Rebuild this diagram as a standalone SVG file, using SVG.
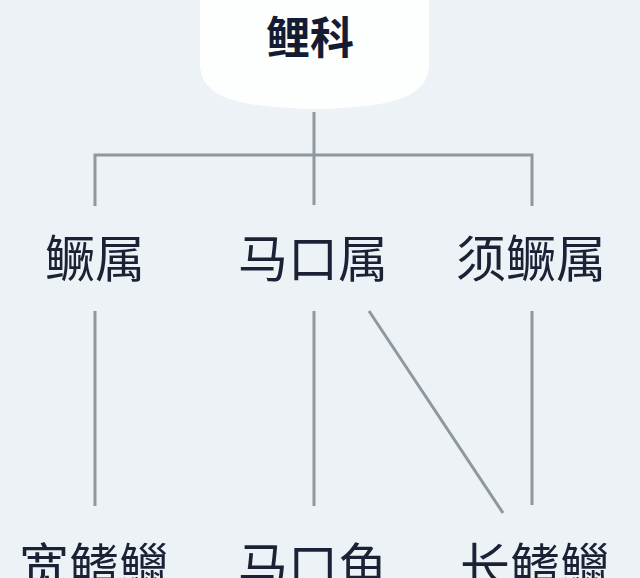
<svg xmlns="http://www.w3.org/2000/svg" width="640" height="578" viewBox="0 0 640 578">
<style>
.ln{stroke:#8e989e;stroke-width:3;fill:none;stroke-linecap:butt}
.t{font-family:"Noto Sans CJK SC","Noto Sans",sans-serif;font-size:50px;fill:#1b2235;text-anchor:middle;font-weight:400}
.h{font-family:"Noto Sans CJK SC","Noto Sans",sans-serif;font-size:44px;fill:#141c33;text-anchor:middle;font-weight:700}
</style>
<rect width="640" height="578" fill="#edf2f6"/>
<g id="node-like">
<path d="M200,0 V66 Q201,96 250,104 Q315,114 380,104 Q428,96 429,66 V0 Z" fill="#fdfefe"/>
<text class="h" x="310" y="54">鲤科</text>
</g>
<g id="connectors">
<line class="ln" x1="314" y1="112" x2="314" y2="205"/>
<polyline class="ln" points="95,206 95,155 532,155 532,206"/>
<line class="ln" x1="95" y1="311" x2="95" y2="506"/>
<line class="ln" x1="314" y1="311" x2="314" y2="506"/>
<line class="ln" x1="532" y1="311" x2="532" y2="505"/>
<line class="ln" x1="369" y1="311" x2="503" y2="513"/>
</g>
<g id="node-guishu"><text class="t" x="95" y="277">鳜属</text></g>
<g id="node-makoushu"><text class="t" x="313" y="277">马口属</text></g>
<g id="node-xuguishu"><text class="t" x="531" y="277">须鳜属</text></g>
<g id="node-kuanqilie"><text class="t" x="94" y="585">宽鳍鱲</text></g>
<g id="node-makouyu"><text class="t" x="313" y="585">马口鱼</text></g>
<g id="node-changqilie"><text class="t" x="535" y="585">长鳍鱲</text></g>
</svg>
